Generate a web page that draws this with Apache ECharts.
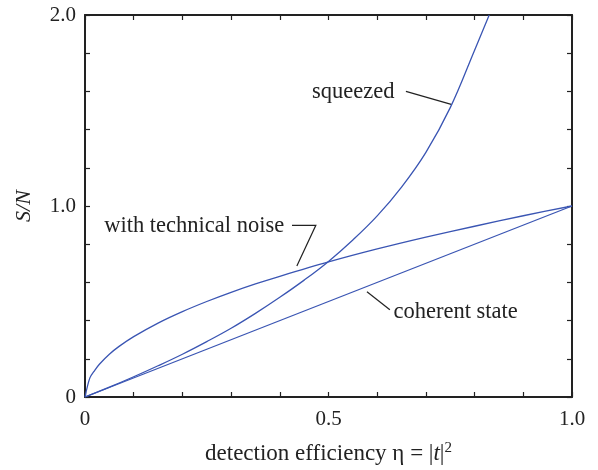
<!DOCTYPE html>
<html><head><meta charset="utf-8">
<script src="https://cdn.jsdelivr.net/npm/echarts/dist/echarts.min.js"></script>
<style>html,body{margin:0;padding:0;background:#fff}#c{width:598px;height:470px}</style>
</head><body><div id="c"></div>
<script>
// ---- data ----
const etaSqueezed = [0, 0.05, 0.1, 0.15, 0.2, 0.25, 0.3, 0.35, 0.4, 0.45, 0.5, 0.55, 0.6, 0.65, 0.7, 0.75, 0.8, 0.83];
const snSqueezed  = [0, 0.0515, 0.106, 0.1635, 0.224, 0.29, 0.36, 0.438, 0.522, 0.612, 0.71, 0.822, 0.948, 1.099, 1.281, 1.515, 1.816, 2.0];
const etaTechnical = [0, 0.01, 0.02, 0.03, 0.05, 0.07, 0.1, 0.15, 0.2, 0.25, 0.3, 0.35, 0.4, 0.5, 0.6, 0.7, 0.8, 0.9, 1.0];
const snTechnical  = [0, 0.1, 0.14, 0.173, 0.224, 0.265, 0.316, 0.387, 0.447, 0.5, 0.548, 0.592, 0.632, 0.707, 0.775, 0.837, 0.894, 0.949, 1.0];
const etaCoherent = [0, 1];
const snCoherent  = [0, 1];
const xTickValues = [0, 0.5, 1];
const xTickLabels = ['0', '0.5', '1.0'];
const yTickValues = [0, 1, 2];
const yTickLabels = ['0', '1.0', '2.0'];
const seriesLabels = ['squeezed', 'with technical noise', 'coherent state'];

const FONT = 'Liberation Serif';
const INK = '#222';
const BLUE = '#3a55b3';

function pairs(xs, ys) { return xs.map((x, i) => [x, ys[i]]); }
function lookup(vals, labels) {
  return v => { const i = vals.findIndex(t => Math.abs(t - v) < 1e-9); return i >= 0 ? labels[i] : ''; };
}

const tickCommon = {
  axisLine: { show: true, onZero: false, lineStyle: { color: INK, width: 2 } },
  axisTick: { show: true, inside: true, length: 5, lineStyle: { color: INK, width: 1.2 } },
  minorTick: { show: true, splitNumber: 5, length: 5, lineStyle: { color: INK, width: 1.2 } },
  splitLine: { show: false },
  minorSplitLine: { show: false }
};

const chart = echarts.init(document.getElementById('c'), null, { renderer: 'canvas' });
const option = {
  animation: false,
  backgroundColor: '#fff',
  grid: { left: 85, right: 26, top: 15, bottom: 70, containLabel: false },
  xAxis: [
    Object.assign({
      type: 'value', min: 0, max: 1, interval: 0.5, position: 'bottom',
      axisLabel: { formatter: lookup(xTickValues, xTickLabels), fontFamily: FONT, fontSize: 21, color: INK, margin: 12 },
      name: 'detection efficiency η = |{i|t}|{s|2}',
      nameLocation: 'middle', nameGap: 44,
      nameTextStyle: {
        fontFamily: FONT, fontSize: 23, color: INK,
        rich: {
          i: { fontFamily: FONT, fontSize: 23, fontStyle: 'italic', color: INK },
          s: { fontFamily: FONT, fontSize: 15, color: INK, verticalAlign: 'top', padding: [0, 0, 10, 0] }
        }
      }
    }, tickCommon),
    Object.assign({
      type: 'value', min: 0, max: 1, interval: 0.5, position: 'top',
      axisLabel: { show: false }
    }, tickCommon)
  ],
  yAxis: [
    Object.assign({
      type: 'value', min: 0, max: 2, interval: 1, position: 'left',
      axisLabel: { formatter: lookup(yTickValues, yTickLabels), fontFamily: FONT, fontSize: 21, color: INK, margin: 9, padding: [5, 0, 0, 0] },
      name: 'S/N', nameLocation: 'middle', nameGap: 50,
      nameTextStyle: { fontFamily: FONT, fontSize: 22, fontStyle: 'italic', color: INK }
    }, tickCommon),
    Object.assign({
      type: 'value', min: 0, max: 2, interval: 1, position: 'right',
      axisLabel: { show: false }
    }, tickCommon)
  ],
  series: [
    { name: seriesLabels[0], type: 'line', xAxisIndex: 0, yAxisIndex: 0, data: pairs(etaSqueezed, snSqueezed),
      smooth: 0.4, showSymbol: false, lineStyle: { color: BLUE, width: 1.3 }, clip: true },
    { name: seriesLabels[1], type: 'line', xAxisIndex: 0, yAxisIndex: 0, data: pairs(etaTechnical, snTechnical),
      smooth: 0.3, showSymbol: false, lineStyle: { color: BLUE, width: 1.3 }, clip: true },
    { name: seriesLabels[2], type: 'line', xAxisIndex: 0, yAxisIndex: 0, data: pairs(etaCoherent, snCoherent),
      showSymbol: false, lineStyle: { color: BLUE, width: 1.3 }, clip: true }
  ]
};
chart.setOption(option);

// annotations placed in data coordinates
const toPx = p => chart.convertToPixel({ xAxisIndex: 0, yAxisIndex: 0 }, p);
const leaders = [
  [[0.659, 1.60], [0.752, 1.532]],
  [[0.425, 0.899], [0.474, 0.899], [0.435, 0.686]],
  [[0.579, 0.551], [0.626, 0.457]]
];
const labelAnchors = [
  { at: [0.466, 1.595], align: 'left' },
  { at: [0.409, 0.894], align: 'right' },
  { at: [0.6335, 0.442], align: 'left' }
];
const graphics = [];
leaders.forEach(pts => graphics.push({
  type: 'polyline', silent: true,
  shape: { points: pts.map(toPx) },
  style: { stroke: INK, lineWidth: 1.2, fill: null }
}));
labelAnchors.forEach((a, i) => {
  const p = toPx(a.at);
  graphics.push({
    type: 'text', silent: true, x: p[0], y: p[1],
    style: { text: seriesLabels[i], font: '22.5px "' + FONT + '"', fill: INK,
      align: a.align, textAlign: a.align, verticalAlign: 'middle', textVerticalAlign: 'middle' }
  });
});
chart.setOption({ graphic: graphics });
</script>
</body></html>
